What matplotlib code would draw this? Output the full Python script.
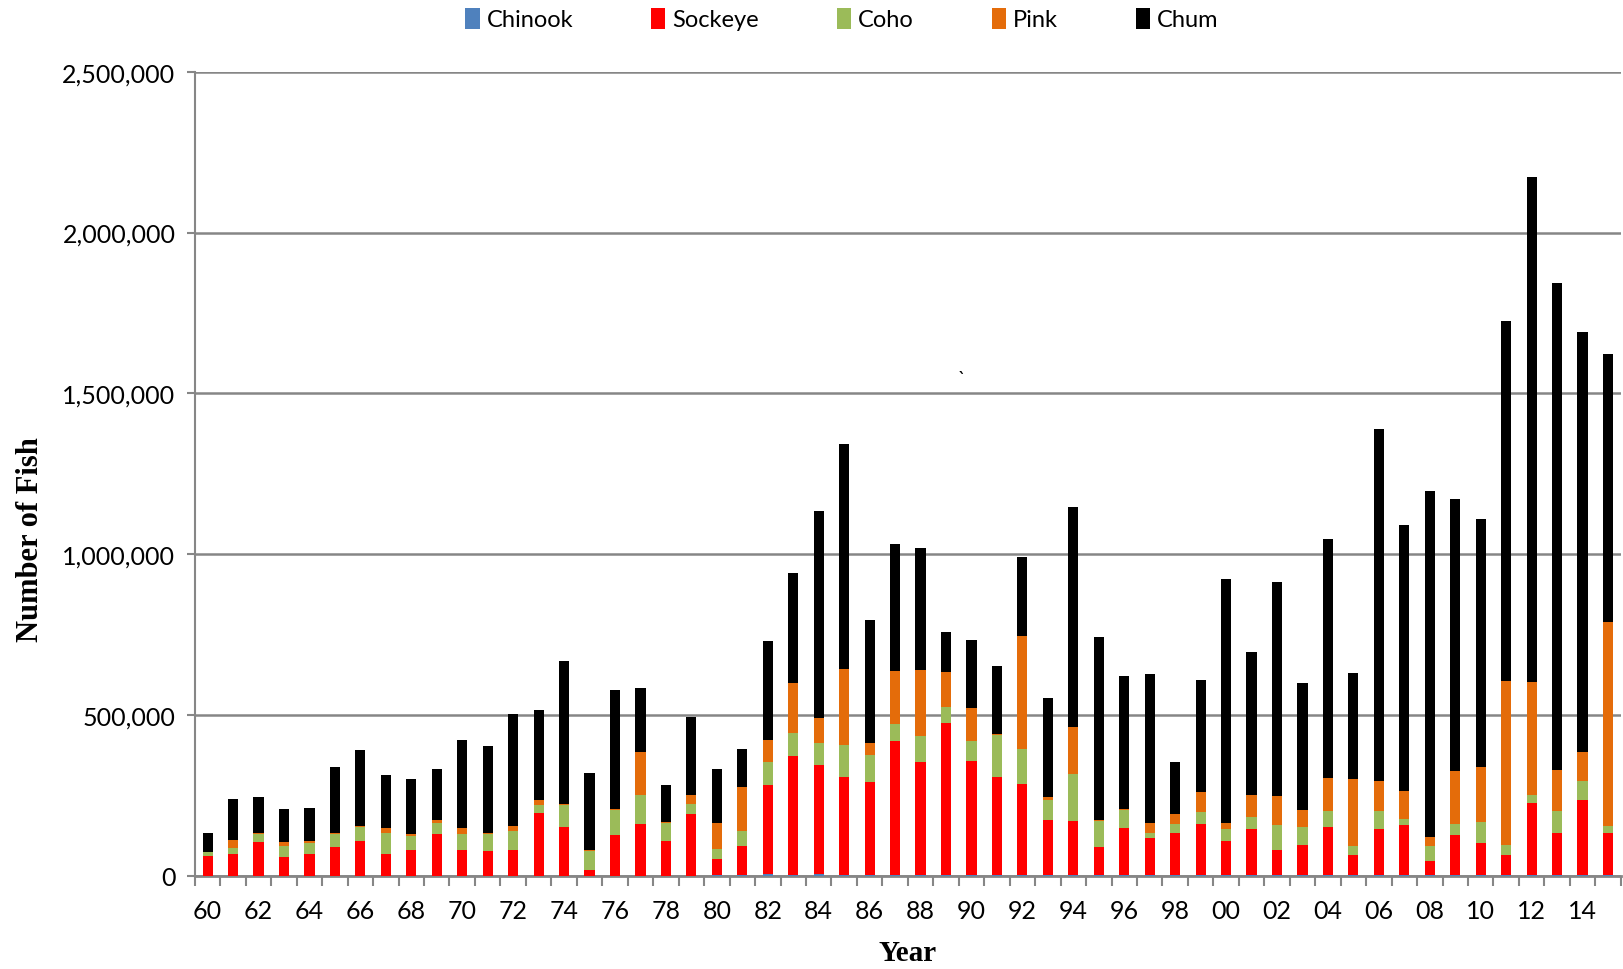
import numpy as np
import matplotlib
matplotlib.use("Agg")
import matplotlib.pyplot as plt
from matplotlib.ticker import FuncFormatter, MultipleLocator

# años 1960-2015, etiquetas de dos dígitos
years = [f"{y % 100:02d}" for y in range(1960, 2016)]

chinook = [1000, 1000, 1000, 1000, 1000, 1000, 1000, 1000, 1000, 1000,
           1000, 1000, 1000, 1000, 1000, 1000, 1000, 1000, 1000, 1000,
           2000, 2000, 5000, 3000, 6000, 3000, 3000, 2000, 2000, 2000,
           2000, 2000, 2000, 2000, 2000, 2000, 2000, 2000, 2000, 2000,
           2000, 2000, 2000, 2000, 2000, 2000, 2000, 2000, 2000, 2000,
           2000, 2000, 2000, 2000, 2000, 2000]
sockeye = [60000, 66000, 103600, 57000, 66000, 89000, 107000, 66000, 81000, 128500,
           78700, 75600, 81000, 193500, 152500, 16500, 127000, 160000, 106700, 192700,
           52000, 91700, 277000, 370000, 338500, 305000, 289600, 416700, 351000, 472000,
           355000, 306000, 284000, 171000, 170000, 87500, 148000, 116700, 132000, 160000,
           105000, 144800, 80000, 92700, 149000, 63500, 142700, 155600, 43600, 124500,
           99600, 62000, 224000, 130700, 233000, 130700]
coho = [12400, 21000, 25000, 35000, 36000, 39000, 43000, 67500, 42600, 36000,
        50000, 53000, 59000, 27000, 66000, 61000, 76000, 92000, 57000, 29000,
        30000, 47000, 73000, 70800, 67700, 98000, 83000, 55000, 83000, 51000,
        63500, 129000, 109000, 61500, 143800, 80000, 55000, 15600, 27000, 36000,
        38500, 36500, 77000, 58000, 52000, 28000, 56000, 19700, 48800, 36300,
        65300, 33000, 25000, 68500, 60000, 22800]
pink = [2000, 25000, 3000, 13000, 5000, 5000, 5000, 15000, 7000, 8000,
        20000, 4000, 13000, 15500, 4000, 1000, 3000, 131600, 3000, 28000,
        80000, 136500, 68700, 156000, 78000, 238500, 37500, 163500, 205000, 110000,
        102000, 5000, 352000, 10400, 145800, 5000, 2000, 31000, 31000, 62500,
        19000, 67700, 88500, 52000, 100000, 209000, 94800, 88000, 27000, 164000,
        171000, 510000, 353000, 126500, 89000, 632500]
chum = [58000, 126600, 113000, 103000, 103000, 205000, 235000, 165000, 170000, 160000,
        271600, 270700, 350000, 279000, 443600, 239500, 372000, 200000, 116000, 242700,
        168800, 116700, 307000, 341700, 642700, 699000, 382000, 394800, 379000, 123000,
        210000, 210000, 244800, 307000, 685000, 568800, 413500, 463500, 161500, 350000,
        760000, 444800, 666700, 394800, 743800, 327000, 1093800, 827000, 1074000, 846000,
        771000, 1118000, 1570000, 1514000, 1307000, 835600]

species = ["Chinook", "Sockeye", "Coho", "Pink", "Chum"]
colores = ["#4F81BD", "#FF0000", "#9BBB59", "#E46C0A", "#000000"]
series = [chinook, sockeye, coho, pink, chum]

plt.rcParams['font.family'] = ['Lato', 'DejaVu Sans']

fig = plt.figure(figsize=(16.24, 9.70), dpi=100)
ax = fig.add_axes([0.120, 0.096, 0.878, 0.829])

x = np.arange(len(years))
base = np.zeros(len(years))
for name, col, vals in zip(species, colores, series):
    vals = np.array(vals, dtype=float)
    ax.bar(x, vals, width=0.4, bottom=base, color=col, label=name, zorder=3)
    base += vals

ax.set_xlim(-0.5, len(years) - 0.5)
ax.set_ylim(0, 2500000)

# rejilla y ejes estilo Excel
ax.yaxis.set_major_locator(MultipleLocator(500000))
ax.yaxis.set_major_formatter(FuncFormatter(lambda v, p: f"{int(v):,}"))
ax.grid(axis='y', color='#868686', linewidth=1.8, zorder=0)
for s in ['top', 'right']:
    ax.spines[s].set_visible(False)
ax.spines['left'].set_color('#868686')
ax.spines['left'].set_linewidth(1.5)
ax.spines['bottom'].set_color('#868686')
ax.spines['bottom'].set_linewidth(2)
ax.tick_params(axis='y', length=6, width=1.5, color='#868686', labelsize=18, pad=8)

ax.set_xticks(x[::2])
ax.set_xticklabels(years[::2])
ax.set_xticks(np.arange(-0.5, len(years), 1), minor=True)
ax.tick_params(axis='x', which='major', length=0, labelsize=18, pad=17)
ax.tick_params(axis='x', which='minor', length=7, width=1.5, color='#868686')

ax.set_xlabel('Year', fontsize=21, fontweight='bold', family='Liberation Serif')
ax.set_ylabel('Number of Fish', fontsize=22, fontweight='bold', family='Liberation Serif')
ax.xaxis.set_label_coords(0.5, -0.078)
ax.yaxis.set_label_coords(-0.105, 0.419)

ax.text(29.6, 1545000, '`', fontsize=14, ha='center', va='center')

fig.legend(loc='upper center', bbox_to_anchor=(0.5185, 1.013), ncol=5, frameon=False,
           fontsize=17, handlelength=0.6, handleheight=1.0, handletextpad=0.3,
           columnspacing=3.3)

plt.savefig('out.png', dpi=100)
